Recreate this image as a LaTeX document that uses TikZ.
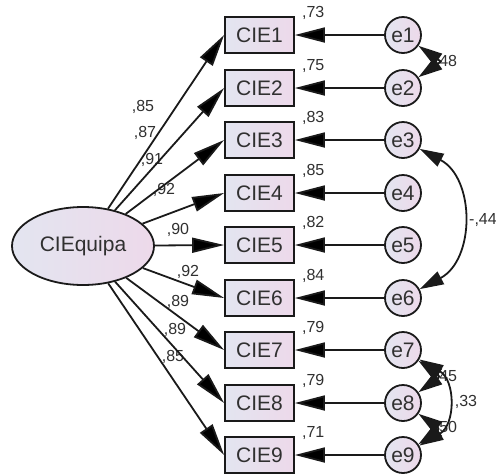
\documentclass[tikz,border=0pt]{standalone}
\usepackage{fontspec}
\setmainfont{Liberation Sans}
\usetikzlibrary{arrows.meta, positioning, shapes.geometric}

\definecolor{fillL}{HTML}{E3E5F0}
\definecolor{fillR}{HTML}{EDD9EA}
\definecolor{ink}{HTML}{1A1A1A}
\definecolor{txt}{HTML}{303030}

\begin{document}
\begin{tikzpicture} [x = 1pt, y = -1pt,
    shaded/.style = {draw = ink, line width = 1.8pt, left color = fillL, right color = fillR,
                     text = txt, inner sep = 0pt, font = \fontsize{21}{21}\selectfont},
    obs/.style = {shaded, rectangle, minimum width = 69pt, minimum height = 36pt},
    lat/.style = {shaded, ellipse, minimum width = 142pt, minimum height = 78pt},
    err/.style = {shaded, circle, minimum size = 36pt},
    coef/.style = {text = txt, inner sep = 1pt, font = \fontsize{16}{16}\selectfont},
    load/.style = {draw = ink, line width = 1.8pt, -{Triangle[length=32pt,width=15pt]}},
    resid/.style = {draw = ink, line width = 1.8pt, -{Triangle[length=30pt,width=15pt]}},
    cov/.style = {draw = ink, line width = 1.8pt,
                  {Triangle[length=24pt,width=14pt]}-{Triangle[length=24pt,width=14pt]}}]
    \useasboundingbox (0,0) rectangle (496,475);

    % latent factor
    \node (fac) [lat] at (83,246) {CIEquipa};

    % indicators
    \node (b1) [obs] at (259.5,35)  {CIE1};
    \node (b2) [obs] at (259.5,88)  {CIE2};
    \node (b3) [obs] at (259.5,140) {CIE3};
    \node (b4) [obs] at (259.5,193) {CIE4};
    \node (b5) [obs] at (259.5,245) {CIE5};
    \node (b6) [obs] at (259.5,298) {CIE6};
    \node (b7) [obs] at (259.5,350) {CIE7};
    \node (b8) [obs] at (259.5,403) {CIE8};
    \node (b9) [obs] at (259.5,455) {CIE9};

    % errors
    \node (e1) [err] at (403,35)  {e1};
    \node (e2) [err] at (403,88)  {e2};
    \node (e3) [err] at (403,140) {e3};
    \node (e4) [err] at (403,193) {e4};
    \node (e5) [err] at (403,245) {e5};
    \node (e6) [err] at (403,298) {e6};
    \node (e7) [err] at (403,350) {e7};
    \node (e8) [err] at (403,403) {e8};
    \node (e9) [err] at (403,455) {e9};

    % squared multiple correlations
    \node (r1) [coef, above right = -5pt and 6pt of b1.north east] {,73};
    \node (r2) [coef, above right = -5pt and 6pt of b2.north east] {,75};
    \node (r3) [coef, above right = -5pt and 6pt of b3.north east] {,83};
    \node (r4) [coef, above right = -5pt and 6pt of b4.north east] {,85};
    \node (r5) [coef, above right = -5pt and 6pt of b5.north east] {,82};
    \node (r6) [coef, above right = -5pt and 6pt of b6.north east] {,84};
    \node (r7) [coef, above right = -5pt and 6pt of b7.north east] {,79};
    \node (r8) [coef, above right = -5pt and 6pt of b8.north east] {,79};
    \node (r9) [coef, above right = -5pt and 6pt of b9.north east] {,71};

    % loadings
    \node (w1) [coef] at (143,107) {,85};
    \node (w2) [coef] at (145,133) {,87};
    \node (w3) [coef] at (152,160) {,91};
    \node (w4) [coef] at (164,190) {,92};
    \node (w5) [coef] at (178,230) {,90};
    \node (w6) [coef] at (188,272) {,92};
    \node (w7) [coef] at (178,302) {,89};
    \node (w8) [coef] at (175,330) {,89};
    \node (w9) [coef] at (173,357) {,85};

    \path [load]
    (fac) edge (b1.west)
    (fac) edge (b2.west)
    (fac) edge (b3.west)
    (fac) edge (b4.west)
    (fac) edge (b5.west)
    (fac) edge (b6.west)
    (fac) edge (b7.west)
    (fac) edge (b8.west)
    (fac) edge (b9.west);

    \path [resid]
    (e1) edge (b1)
    (e2) edge (b2)
    (e3) edge (b3)
    (e4) edge (b4)
    (e5) edge (b5)
    (e6) edge (b6)
    (e7) edge (b7)
    (e8) edge (b8)
    (e9) edge (b9);

    % correlated errors
    \node (c12) [coef] at (446,62)  {,48};
    \node (c36) [coef] at (483,220) {-,44};
    \node (c78) [coef] at (446,377) {,45};
    \node (c89) [coef] at (446,428) {,50};
    \node (c79) [coef] at (466,402) {,33};
    \draw [cov] (e1.-35) to [out=-35, in=35, looseness=2.3] (e2.35);
    \draw [cov] (e3.-28) to [out=-28, in=28, looseness=1.15] (e6.28);
    \draw [cov] (e7.-35) to [out=-35, in=35, looseness=2.1] (e8.35);
    \draw [cov] (e8.-35) to [out=-35, in=35, looseness=2.1] (e9.35);
    \draw [cov] (e7.-30) to [out=-30, in=30, looseness=1.25] (e9.30);
\end{tikzpicture}
\end{document}
